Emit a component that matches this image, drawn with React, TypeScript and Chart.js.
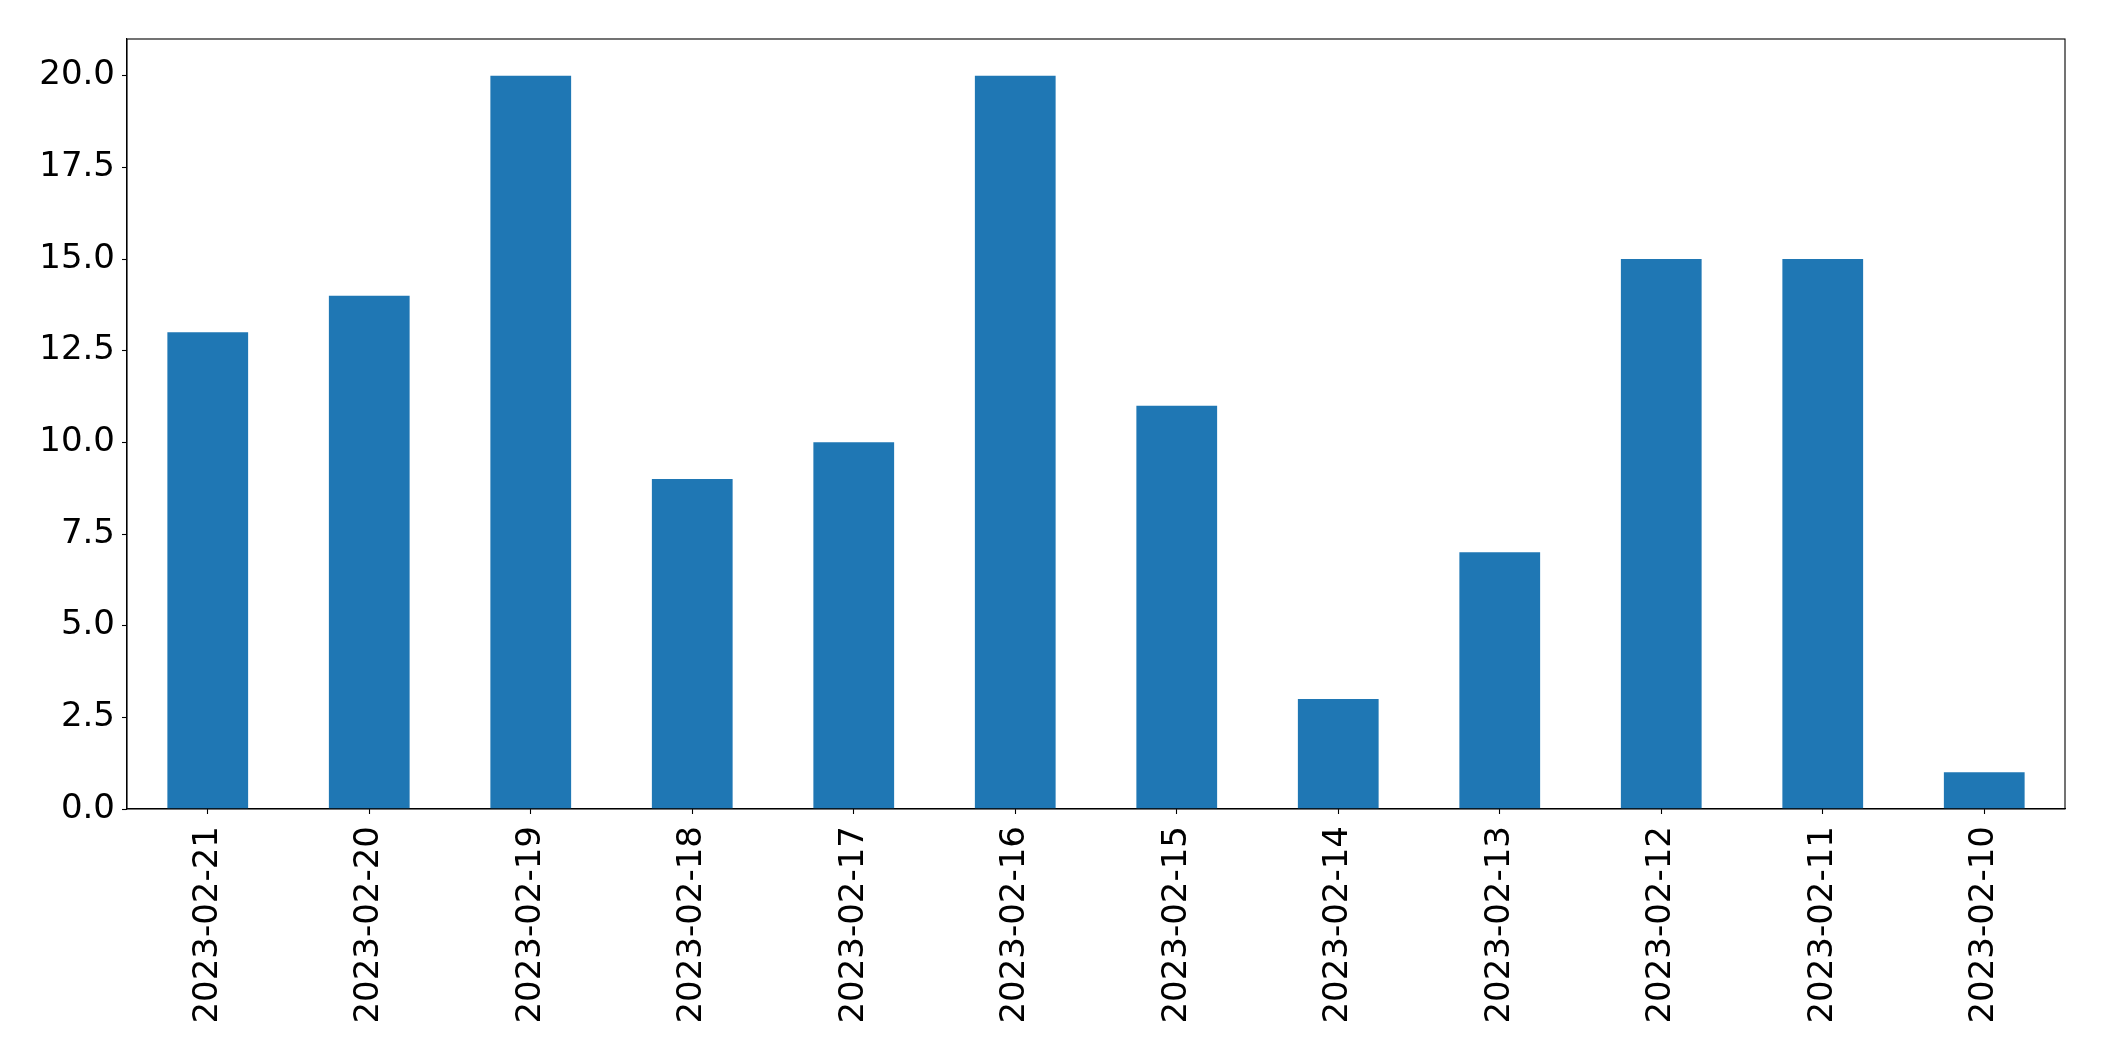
import React, { useEffect, useRef } from "react";
import { Chart, registerables } from "chart.js";

Chart.register(...registerables);

const categories = [
  "2023-02-21", "2023-02-20", "2023-02-19", "2023-02-18", "2023-02-17", "2023-02-16",
  "2023-02-15", "2023-02-14", "2023-02-13", "2023-02-12", "2023-02-11", "2023-02-10",
];
const values = [13, 14, 20, 9, 10, 20, 11, 3, 7, 15, 15, 1];
const yTicks = [0, 2.5, 5, 7.5, 10, 12.5, 15, 17.5, 20];

const FONT = "'DejaVu Sans', sans-serif";

const frame = {
  id: "frame",
  afterDraw(chart: any) {
    const { ctx, chartArea } = chart;
    ctx.save();
    ctx.strokeStyle = "#000";
    ctx.lineWidth = 1.1;
    ctx.strokeRect(chartArea.left, chartArea.top, chartArea.right - chartArea.left, chartArea.bottom - chartArea.top);
    ctx.restore();
  },
};

export default function App() {
  const ref = useRef<HTMLCanvasElement | null>(null);
  useEffect(() => {
    if (!ref.current) return;
    const chart = new Chart(ref.current, {
      type: "bar",
      data: {
        labels: categories,
        datasets: [
          {
            data: values,
            backgroundColor: "#1f77b4",
            categoryPercentage: 1,
            barPercentage: 0.5,
          },
        ],
      },
      options: {
        animation: false,
        responsive: false,
        maintainAspectRatio: false,
        layout: { padding: { left: 0, top: 39, right: 39, bottom: 0 } },
        plugins: { legend: { display: false }, tooltip: { enabled: false } },
        scales: {
          x: {
            offset: true,
            grid: { display: true, offset: false, drawOnChartArea: false, drawTicks: true, tickLength: 5, tickColor: "#000", tickWidth: 1.1 },
            border: { display: true, color: "#000", width: 1.1 },
            ticks: {
              minRotation: 90,
              maxRotation: 90,
              autoSkip: false,
              padding: 12,
              color: "#000",
              font: { family: FONT, size: 34 },
            },
            afterFit(scale: any) {
              scale.height = 252;
            },
          },
          y: {
            min: 0,
            max: 21,
            grid: { display: true, drawOnChartArea: false, drawTicks: true, tickLength: 5, tickColor: "#000", tickWidth: 1.1 },
            border: { display: true, color: "#000", width: 1.1 },
            afterBuildTicks(scale: any) {
              scale.ticks = yTicks.map((v) => ({ value: v }));
            },
            ticks: {
              padding: 7,
              color: "#000",
              font: { family: FONT, size: 34 },
              callback: (v: any) => Number(v).toFixed(1),
            },
            afterFit(scale: any) {
              scale.width = 127;
            },
          },
        },
      },
      plugins: [frame],
    });
    return () => chart.destroy();
  }, []);
  return (
    <div style={{ position: "fixed", left: 0, top: 0, width: 2104, height: 1061, background: "#fff" }}>
      <canvas ref={ref} width={2104} height={1061} style={{ width: 2104, height: 1061 }} />
    </div>
  );
}
